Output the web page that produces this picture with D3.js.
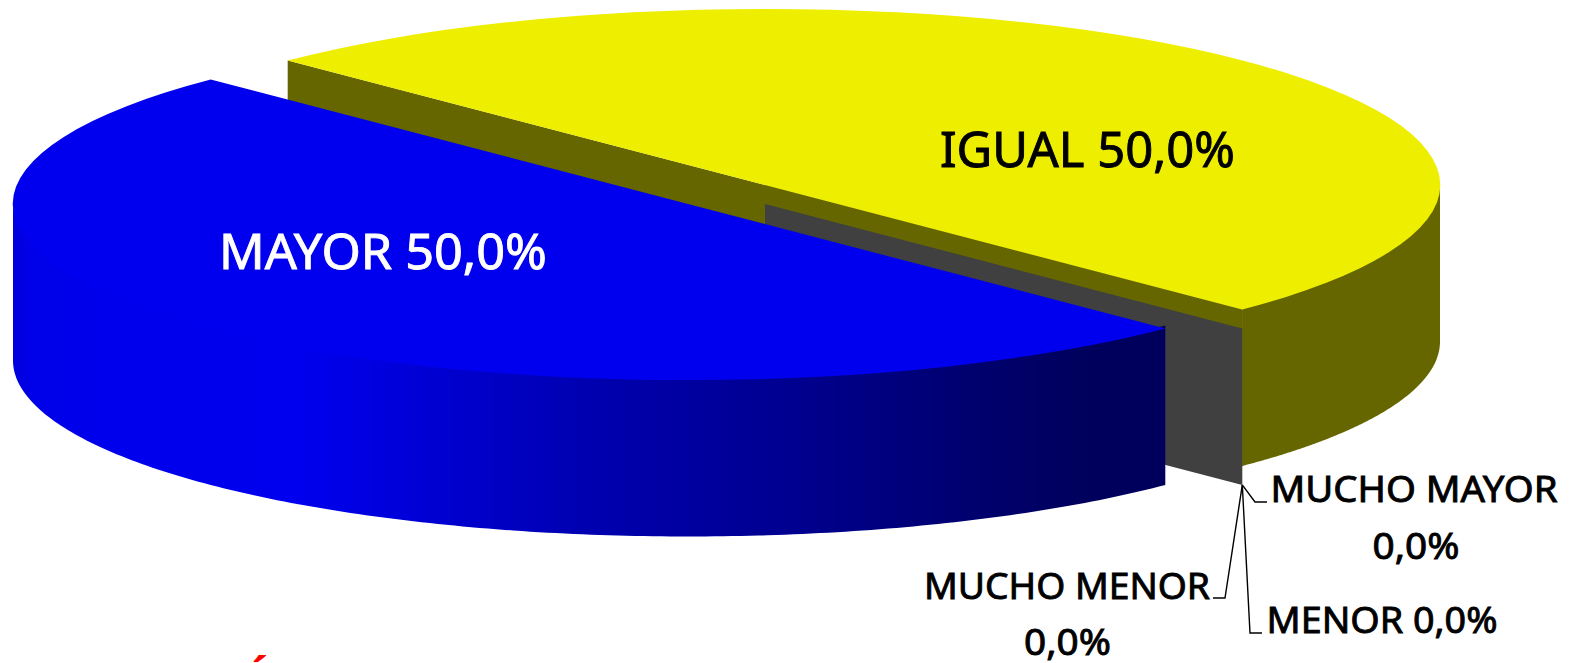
<!DOCTYPE html>
<html><head><meta charset="utf-8">
<script src="https://cdn.jsdelivr.net/npm/d3@7"></script>
<style>html,body{margin:0;padding:0;background:#fff;overflow:hidden}svg{display:block}
text{font-family:"Noto Sans",sans-serif}</style></head>
<body><svg id="c" width="1570" height="663"></svg>
<script>
const categories=["IGUAL","MUCHO MAYOR","MENOR","MUCHO MENOR","MAYOR"];
const values=[50,0,0,0,50];
const topColors=["#eeee00","#404040","#404040","#404040","#0000ee"];
const wallColors=["#666600","#404040","#404040","#404040","url(#wall)"];
const gradX=[13,30,100,300,400,600,800,1000,1090,1165];
const gradC=["#0000dc","#0000e8","#0000ec","#0000ee","#0000da","#0000ae","#00008e","#00006a","#00005c","#00005c"];
const sizes={big:48.5,small:37};

const W=1570,H=663,rx=675,ry=176,depth=156.5;
const centers={0:[765,185],1:[765,204],2:[765,204],3:[765,204],4:[688,204]};
const svg=d3.select("#c");
const pie=d3.pie().sort(null).value((d,i)=>values[i]).startAngle(-Math.PI/4).endAngle(7*Math.PI/4);
const arcs=pie(categories);
const ell=(c,a,dy=0)=>[c[0]+rx*Math.sin(a),c[1]-ry*Math.cos(a)+dy];
const line=d3.line();
const arcGen=d3.arc().innerRadius(0).outerRadius(rx);

const g=svg.append("linearGradient").attr("id","wall").attr("gradientUnits","userSpaceOnUse")
 .attr("x1",gradX[0]).attr("x2",gradX[gradX.length-1]).attr("y1",0).attr("y2",0);
const off=d3.scaleLinear().domain([gradX[0],gradX[gradX.length-1]]).range([0,1]);
gradX.forEach((x,i)=>g.append("stop").attr("offset",off(x)).attr("stop-color",gradC[i]));

// outer wall of a slice, only where it faces the viewer; raised a little under the top face
function outerWall(i){
  const a=arcs[i],c=centers[i];
  const s=Math.max(a.startAngle,Math.PI/2),e=Math.min(a.endAngle,3*Math.PI/2);
  if(e<=s) return;
  const r=d3.range(0,181).map(t=>s+(e-s)*t/180);
  const pts=r.map(t=>ell(c,t,-3)).concat(r.slice().reverse().map(t=>ell(c,t,depth)));
  svg.append("path").attr("d",line(pts)+"Z").attr("fill",wallColors[i]);
}
function cutFace(i,ang,col,stroke){
  const c=centers[i],p=ell(c,ang);
  svg.append("path").attr("d",line([c,p,[p[0],p[1]+depth],[c[0],c[1]+depth]])+"Z").attr("fill",col)
   .attr("stroke",stroke?col:"none").attr("stroke-width",stroke?1:0);
}
function topFace(i){
  const c=centers[i];
  svg.append("path").attr("d",arcGen(arcs[i]))
   .attr("transform",`translate(${c[0]},${c[1]}) scale(1,${ry/rx})`).attr("fill",topColors[i]);
}
// painter's order: yellow slice, zero slices, blue slice
outerWall(0);
cutFace(0,arcs[0].endAngle,wallColors[0],true);
cutFace(0,arcs[0].startAngle,wallColors[0],false);
topFace(0);
cutFace(1,arcs[1].startAngle,wallColors[1],false);
outerWall(4);
topFace(4);

// leader lines of the three empty slices
const apex=ell(centers[1],arcs[1].startAngle,depth);
const leaders=[[[1255,502],[1267,502]],[[1250,633],[1262,633]],[[1225,598],[1213,598]]];
leaders.forEach(l=>svg.append("path").attr("d",line([apex,...l])).attr("fill","none").attr("stroke","#000").attr("stroke-width",1.4));

const pct=v=>d3.format(".1f")(v).replace(".",",")+"%";
const labels=[
 {t:categories[0]+" "+pct(values[0]),x:1087.5,y:167,c:"#000",s:sizes.big,w:295},
 {t:categories[4]+" "+pct(values[4]),x:383,y:269,c:"#fff",s:sizes.big,w:328},
 {t:categories[1],x:1414,y:502,c:"#000",s:sizes.small,w:287},
 {t:pct(values[1]),x:1416,y:559,c:"#000",s:sizes.small,w:87},
 {t:categories[2]+" "+pct(values[2]),x:1382,y:633,c:"#000",s:sizes.small,w:231},
 {t:categories[3],x:1067,y:599,c:"#000",s:sizes.small,w:286},
 {t:pct(values[3]),x:1067.5,y:655,c:"#000",s:sizes.small,w:87}
];
svg.selectAll("text.l").data(labels).enter().append("text").attr("class","l")
 .attr("x",d=>d.x).attr("y",d=>d.y).attr("text-anchor","middle").attr("fill",d=>d.c)
 .attr("stroke",d=>d.c).attr("stroke-width",0.9)
 .attr("font-size",d=>d.s).attr("textLength",d=>d.w).attr("lengthAdjust","spacingAndGlyphs").text(d=>d.t);
// accent of a cropped title at the very bottom edge
svg.append("text").attr("x",242).attr("y",697).attr("fill","#ff0000").attr("font-size",44).attr("font-weight",700).text("Á");
</script></body></html>
